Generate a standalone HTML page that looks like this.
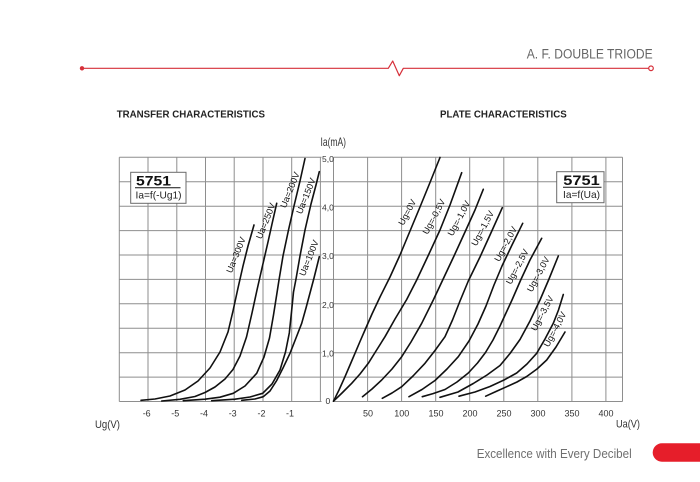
<!DOCTYPE html>
<html>
<head>
<meta charset="utf-8">
<style>
  html, body { margin: 0; padding: 0; background: #ffffff; }
  body { width: 700px; height: 482px; overflow: hidden; }
  svg { display: block; }
  text { font-family: "Liberation Sans", Arial, sans-serif; }
</style>
</head>
<body>
<svg width="700" height="482" viewBox="0 0 700 482" xmlns="http://www.w3.org/2000/svg">
  <rect x="0" y="0" width="700" height="482" fill="#ffffff"/>

  <!-- Header -->
  <text x="526.7" y="58.3" font-size="13.5" fill="#666666" textLength="126" lengthAdjust="spacingAndGlyphs">A. F. DOUBLE TRIODE</text>
  <polyline points="82,68.3 388.3,68.3 392.7,61 399.3,75.7 403.3,68.3 648.7,68.3" fill="none" stroke="#d6303a" stroke-width="1.2" stroke-linejoin="round"/>
  <circle cx="82" cy="68.3" r="2.2" fill="#d6303a"/>
  <circle cx="651" cy="68.3" r="2.3" fill="#ffffff" stroke="#d6303a" stroke-width="1.2"/>

  <!-- Titles -->
  <text x="116.7" y="117.5" font-size="10" font-weight="bold" fill="#222222" textLength="148.3" lengthAdjust="spacingAndGlyphs">TRANSFER CHARACTERISTICS</text>
  <text x="440" y="117.5" font-size="10" font-weight="bold" fill="#222222" textLength="126.7" lengthAdjust="spacingAndGlyphs">PLATE CHARACTERISTICS</text>

  <!-- Grid: left chart -->
  <g stroke="#8e8e8e" stroke-width="1" fill="none">
    <line x1="119.3" y1="157.3" x2="119.3" y2="401.5"/>
    <line x1="148.0" y1="157.3" x2="148.0" y2="401.5"/>
    <line x1="176.8" y1="157.3" x2="176.8" y2="401.5"/>
    <line x1="205.5" y1="157.3" x2="205.5" y2="401.5"/>
    <line x1="234.2" y1="157.3" x2="234.2" y2="401.5"/>
    <line x1="263.0" y1="157.3" x2="263.0" y2="401.5"/>
    <line x1="291.7" y1="157.3" x2="291.7" y2="401.5"/>
    <line x1="320.4" y1="157.3" x2="320.4" y2="401.5"/>
    <line x1="119.3" y1="157.3" x2="321.5" y2="157.3"/>
    <line x1="119.3" y1="206.2" x2="321.5" y2="206.2"/>
    <line x1="119.3" y1="255.0" x2="321.5" y2="255.0"/>
    <line x1="119.3" y1="303.8" x2="321.5" y2="303.8"/>
    <line x1="119.3" y1="352.7" x2="321.5" y2="352.7"/>
    <line x1="119.3" y1="401.5" x2="321.5" y2="401.5"/>
    <line x1="119.3" y1="181.7" x2="622.5" y2="181.7"/>
    <line x1="119.3" y1="230.6" x2="622.5" y2="230.6"/>
    <line x1="119.3" y1="279.4" x2="622.5" y2="279.4"/>
    <line x1="119.3" y1="328.2" x2="622.5" y2="328.2"/>
    <line x1="119.3" y1="377.1" x2="622.5" y2="377.1"/>
  </g>

  <!-- Grid: right chart -->
  <g stroke="#8e8e8e" stroke-width="1" fill="none">
    <line x1="333.5" y1="157.3" x2="333.5" y2="401.5"/>
    <line x1="367.6" y1="157.3" x2="367.6" y2="401.5"/>
    <line x1="401.6" y1="157.3" x2="401.6" y2="401.5"/>
    <line x1="435.7" y1="157.3" x2="435.7" y2="401.5"/>
    <line x1="469.7" y1="157.3" x2="469.7" y2="401.5"/>
    <line x1="503.8" y1="157.3" x2="503.8" y2="401.5"/>
    <line x1="537.8" y1="157.3" x2="537.8" y2="401.5"/>
    <line x1="571.9" y1="157.3" x2="571.9" y2="401.5"/>
    <line x1="605.9" y1="157.3" x2="605.9" y2="401.5"/>
    <line x1="622.5" y1="157.3" x2="622.5" y2="401.5"/>
    <line x1="333.5" y1="157.3" x2="622.5" y2="157.3"/>
    <line x1="333.5" y1="206.2" x2="622.5" y2="206.2"/>
    <line x1="333.5" y1="255.0" x2="622.5" y2="255.0"/>
    <line x1="333.5" y1="303.8" x2="622.5" y2="303.8"/>
    <line x1="333.5" y1="352.7" x2="622.5" y2="352.7"/>
    <line x1="333.5" y1="401.5" x2="622.5" y2="401.5"/>
  </g>

  <!-- white backing behind Y labels -->
  <g fill="#ffffff">
    <rect x="321.5" y="155" width="11.5" height="9"/>
    <rect x="321.5" y="202" width="11.5" height="9"/>
    <rect x="321.5" y="251" width="11.5" height="9"/>
    <rect x="321.5" y="300" width="11.5" height="9"/>
    <rect x="321.5" y="348" width="11.5" height="9"/>
  </g>

  <!-- Y tick labels -->
  <g font-size="8.5" fill="#333333">
    <text x="322" y="162">5,0</text>
    <text x="322" y="210.3">4,0</text>
    <text x="322" y="259">3,0</text>
    <text x="322" y="307.8">2,0</text>
    <text x="322" y="356.7">1,0</text>
    <text x="325.5" y="404">0</text>
  </g>

  <!-- Axis name labels -->
  <text x="320.5" y="146" font-size="12" fill="#333333" textLength="25.5" lengthAdjust="spacingAndGlyphs">Ia(mA)</text>
  <text x="95" y="428" font-size="11" fill="#333333" textLength="25" lengthAdjust="spacingAndGlyphs">Ug(V)</text>
  <text x="616" y="427.5" font-size="11" fill="#333333" textLength="24" lengthAdjust="spacingAndGlyphs">Ua(V)</text>

  <!-- X tick labels left -->
  <g font-size="9" fill="#333333" text-anchor="middle">
    <text x="146.7" y="416.5">-6</text>
    <text x="175.3" y="416.5">-5</text>
    <text x="204" y="416.5">-4</text>
    <text x="232.7" y="416.5">-3</text>
    <text x="261.5" y="416.5">-2</text>
    <text x="290" y="416.5">-1</text>
  </g>
  <!-- X tick labels right -->
  <g font-size="9" fill="#333333" text-anchor="middle">
    <text x="368" y="416.5">50</text>
    <text x="401.8" y="416.5">100</text>
    <text x="436" y="416.5">150</text>
    <text x="470" y="416.5">200</text>
    <text x="504" y="416.5">250</text>
    <text x="538" y="416.5">300</text>
    <text x="572" y="416.5">350</text>
    <text x="606" y="416.5">400</text>
  </g>

  <!-- Left chart curves -->
  <g fill="none" stroke="#111111" stroke-width="1.6" stroke-linejoin="round" stroke-linecap="round">
    <polyline points="141,400.3 155,399 170,396 185,390 198,381 210,368 220,352 228,332 233,311 238,288 243,266 248,246 254,225"/>
    <polyline points="161.7,401 180,399.3 195,396.5 205,392.5 215,387 225,379 233,369.5 240,356 246.5,337 252,313 257,290 262,268 268,242 272,224 276.7,203.3"/>
    <polyline points="183.3,400.7 205,399.2 220,397.2 233.3,393.3 245,386 256.7,373.3 264,357 269.5,338 273.5,315 276.5,296 279,280 283,256 288.5,230 294,206 300,181 305,158.5"/>
    <polyline points="211.7,400.7 235,399.2 250,397 262.7,393.3 272,384 280,370 285.5,352 289.3,333 291.5,312 293.5,292 296,279 300,256 305,230 311,204 316,185 319.3,171.7"/>
    <polyline points="241.7,400.3 255,399 263.3,396.7 270,391 276.7,380.5 283,368 290,353.3 296,338 301.7,323.3 306,308 310,293 314,278 317,266 319.3,256.7"/>
  </g>

  <!-- Right chart curves -->
  <g fill="none" stroke="#111111" stroke-width="1.6" stroke-linejoin="round" stroke-linecap="round">
    <polyline points="333.5,401.2 339,390 345,376.7 350,365 355,353.3 360,341.5 365,330 372,314 380,297 390,277 400,255 410,231 420,207 430,182.5 440,157.5"/>
    <polyline points="333.5,401.2 342,393 351.7,383.3 360,374 368.3,363.3 376,351 385,336.7 395,319 406.7,299.5 416.7,280 428,256 440,230 450,205 461.7,172.7"/>
    <polyline points="362.5,396.7 372,389 381.7,380 392,369 401.7,356.7 411,342 421.7,323.3 433.3,300 442.7,280 454,256 465,232 475,210 483.3,189.3"/>
    <polyline points="382.3,398.3 392,393 401.7,386.7 413,376 425,363.3 435,350.5 445,336.7 452.5,320 460,301 468.3,281 480,257 490,235 502.3,207.7"/>
    <polyline points="409,396.7 422,389.5 435,380.5 447,369 458.3,356.7 469,341 478,324 486,306 494,285 502,266 512,245 522.7,223.3"/>
    <polyline points="422.3,396.7 433,393.6 445,389.5 457,382 468.3,373 477.5,363 485.5,352.5 493,340 500,326 506,313 512,300 520.7,280 530,260 541.7,238.3"/>
    <polyline points="440,397.3 458,392 473.3,383.5 487,375 500,365.5 510,353.5 520,339.5 530,321 540,300 549,279 558.3,256"/>
    <polyline points="459,396.2 475,392 490,386.5 504,380 516.7,373 527,364 536.7,353.3 545,339 553.3,323.3 558.5,310 563.3,294.5"/>
    <polyline points="485.7,396.2 496,391.5 506.7,386.7 517,382 526.7,376.5 537,369 546.7,360 556,347 565,332"/>
  </g>

  <!-- Left curve labels -->
  <g font-size="9" fill="#111111" text-anchor="middle" dominant-baseline="central">
    <text transform="translate(236,255) rotate(-68)">Ua=300V</text>
    <text transform="translate(265.8,221) rotate(-68)">Ua=250V</text>
    <text transform="translate(290,190) rotate(-68)">Ua=200V</text>
    <text transform="translate(306,196) rotate(-68)">Ua=150V</text>
    <text transform="translate(309,258) rotate(-68)">Ua=100V</text>
  </g>

  <!-- Right curve labels -->
  <g font-size="9" fill="#111111" text-anchor="middle" dominant-baseline="central">
    <text transform="translate(407.3,212.3) rotate(-62)">Ug=0V</text>
    <text transform="translate(434,216.7) rotate(-62)">Ug=-0,5V</text>
    <text transform="translate(459,218.3) rotate(-62)">Ug=-1,0V</text>
    <text transform="translate(482.7,228.3) rotate(-62)">Ug=-1,5V</text>
    <text transform="translate(505.7,244) rotate(-62)">Ug=-2,0V</text>
    <text transform="translate(517.3,266.7) rotate(-62)">Ug=-2,5V</text>
    <text transform="translate(538.3,274.3) rotate(-62)">Ug=-3,0V</text>
    <text transform="translate(542.3,313.3) rotate(-62)">Ug=-3,5V</text>
    <text transform="translate(555,329.3) rotate(-62)">Ug=-4,0V</text>
  </g>

  <!-- Left box -->
  <rect x="130.7" y="172.3" width="55.3" height="31" fill="#ffffff" stroke="#6a6a6a" stroke-width="1"/>
  <text x="136" y="185.3" font-size="14" font-weight="bold" fill="#111111" textLength="35" lengthAdjust="spacingAndGlyphs">5751</text>
  <line x1="135" y1="187.7" x2="180.5" y2="187.7" stroke="#111111" stroke-width="1"/>
  <text x="135.5" y="198.3" font-size="10.5" fill="#222222" textLength="46" lengthAdjust="spacingAndGlyphs">Ia=f(-Ug1)</text>

  <!-- Right box -->
  <rect x="556.7" y="171.7" width="47.3" height="31" fill="#ffffff" stroke="#6a6a6a" stroke-width="1"/>
  <text x="563.3" y="185" font-size="14" font-weight="bold" fill="#111111" textLength="36.5" lengthAdjust="spacingAndGlyphs">5751</text>
  <line x1="563" y1="187.3" x2="601.5" y2="187.3" stroke="#111111" stroke-width="1"/>
  <text x="563" y="198.2" font-size="10.5" fill="#222222" textLength="37" lengthAdjust="spacingAndGlyphs">Ia=f(Ua)</text>

  <!-- Footer -->
  <text x="476.7" y="458" font-size="12.5" fill="#6f6f6f" textLength="155" lengthAdjust="spacingAndGlyphs">Excellence with Every Decibel</text>
  <rect x="652.7" y="443.3" width="60" height="18.4" rx="9.2" ry="9.2" fill="#e61e2a"/>
</svg>
</body>
</html>
